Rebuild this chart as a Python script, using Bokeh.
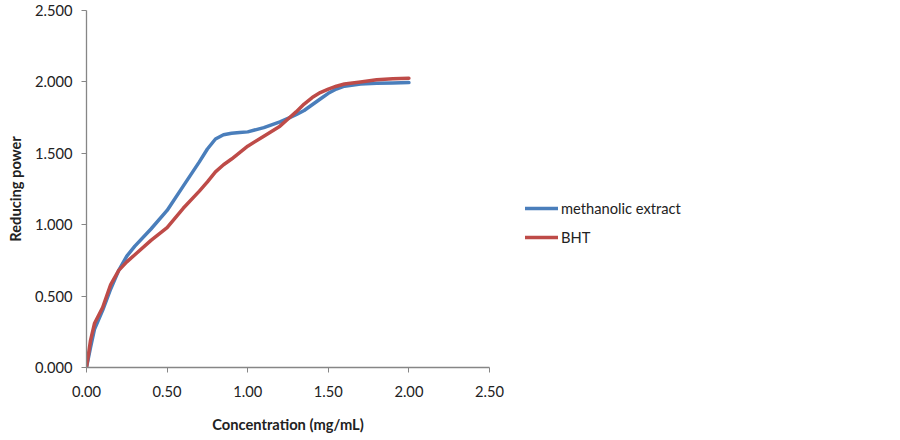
from bokeh.plotting import figure
from bokeh.models import Range1d, Legend, LegendItem, NumeralTickFormatter, FixedTicker
from bokeh.embed import file_html
from bokeh.resources import INLINE

# Concentration (mg/mL)
conc = [0.0, 0.025, 0.05, 0.1, 0.15, 0.2, 0.25, 0.3, 0.4, 0.5, 0.6, 0.7, 0.75, 0.8, 0.85, 0.9, 0.95,
        1.0, 1.1, 1.2, 1.25, 1.3, 1.35, 1.4, 1.45, 1.5, 1.55, 1.6, 1.7, 1.8, 1.9, 2.0]
# Reducing power - methanolic extract
extract = [0.0, 0.14, 0.27, 0.40, 0.55, 0.68, 0.78, 0.85, 0.97, 1.10, 1.27, 1.44, 1.53, 1.60, 1.63, 1.64, 1.645,
           1.65, 1.68, 1.72, 1.745, 1.77, 1.80, 1.84, 1.88, 1.92, 1.95, 1.97, 1.985, 1.99, 1.993, 1.995]
# Reducing power - BHT
bht = [0.0, 0.19, 0.31, 0.42, 0.58, 0.68, 0.74, 0.79, 0.89, 0.98, 1.115, 1.235, 1.30, 1.37, 1.42, 1.46, 1.505,
       1.55, 1.62, 1.69, 1.74, 1.79, 1.845, 1.89, 1.925, 1.95, 1.97, 1.985, 2.0, 2.015, 2.022, 2.025]

x_ticks = [0.0, 0.5, 1.0, 1.5, 2.0, 2.5]
y_ticks = [0.0, 0.5, 1.0, 1.5, 2.0, 2.5]

FONT = "Lato"
FS = "14.7px"
AXIS_COL = "#868686"
TEXT_COL = "#222222"

p = figure(frame_width=403, frame_height=357, output_backend="svg", toolbar_location=None,
           x_range=Range1d(0, 2.5), y_range=Range1d(0, 2.5),
           min_border_left=86, min_border_top=10, min_border_bottom=68, min_border_right=0,
           background_fill_color="white", border_fill_color="white", outline_line_color=None)
p.grid.visible = False

r1 = p.line(conc, extract, line_color="#4a7ebb", line_width=3.5, line_join="round", line_cap="round")
r2 = p.line(conc, bht, line_color="#be4b48", line_width=3.5, line_join="round", line_cap="round")

for ax in (p.xaxis[0], p.yaxis[0]):
    ax.axis_line_color = AXIS_COL
    ax.axis_line_width = 1.3
    ax.major_tick_line_color = AXIS_COL
    ax.major_tick_in = 0
    ax.major_tick_out = 5
    ax.minor_tick_line_color = None
    ax.major_label_text_font = FONT
    ax.major_label_text_font_size = FS
    ax.major_label_text_color = TEXT_COL
    ax.axis_label_text_font = FONT
    ax.axis_label_text_font_size = FS
    ax.axis_label_text_font_style = "bold"
    ax.axis_label_text_color = TEXT_COL

p.xaxis.ticker = FixedTicker(ticks=x_ticks)
p.yaxis.ticker = FixedTicker(ticks=y_ticks)
p.xaxis.formatter = NumeralTickFormatter(format="0.00")
p.yaxis.formatter = NumeralTickFormatter(format="0.000")
p.xaxis.major_label_standoff = 13
p.yaxis.major_label_standoff = 9
p.xaxis.axis_label = "Concentration (mg/mL)"
p.yaxis.axis_label = "Reducing power"
p.xaxis.axis_label_standoff = 15
p.yaxis.axis_label_standoff = 8

legend = Legend(items=[LegendItem(label="methanolic extract", renderers=[r1]),
                       LegendItem(label="BHT", renderers=[r2])],
                location=(36, 120), orientation="vertical",
                border_line_color=None, background_fill_alpha=0,
                padding=0, margin=0, spacing=9, glyph_width=33, glyph_height=20,
                label_standoff=3, label_height=20,
                label_text_font=FONT, label_text_font_size=FS, label_text_color=TEXT_COL)
p.add_layout(legend, "right")
p.min_border_right = 240

open("out.html", "w").write(file_html(p, INLINE))
